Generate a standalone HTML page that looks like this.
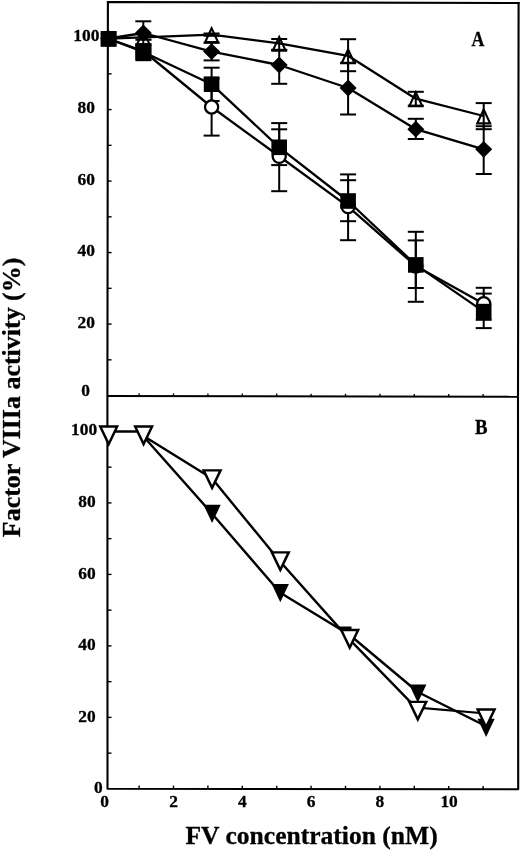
<!DOCTYPE html>
<html lang="en">
<head>
<meta charset="utf-8">
<title>Factor VIIIa activity vs FV concentration</title>
<style>
html, body { margin: 0; padding: 0; background: #ffffff; }
body { width: 520px; height: 850px; overflow: hidden; font-family: "Liberation Serif", serif; }
svg { display: block; will-change: transform; filter: grayscale(1) blur(0.4px); }
svg text { font-family: "Liberation Serif", serif; font-weight: bold; fill: #000000; stroke: #000000; stroke-width: 0.3px; }
</style>
</head>
<body>
<svg width="520" height="850" viewBox="0 0 520 850">
<rect x="0" y="0" width="520" height="850" fill="#ffffff"/>
<polyline points="107.40,395.95 107.90,2.00 518.60,2.95 518.00,396.80" fill="none" stroke="#000000" stroke-width="2.1" stroke-linejoin="round"/>
<polyline points="107.40,395.95 107.50,788.80 518.20,789.30 518.00,396.80" fill="none" stroke="#000000" stroke-width="2.1" stroke-linejoin="round"/>
<rect x="106.85" y="0.95" width="2.1" height="2.1" fill="#000000"/>
<rect x="517.55" y="1.9" width="2.1" height="2.1" fill="#000000"/>
<line x1="107.40" y1="395.95" x2="518.00" y2="396.80" stroke="#000000" stroke-width="2.1" stroke-linecap="butt"/>
<line x1="107.60" y1="359.83" x2="111.60" y2="359.83" stroke="#000000" stroke-width="1.4" stroke-linecap="butt"/>
<line x1="107.60" y1="324.08" x2="111.60" y2="324.08" stroke="#000000" stroke-width="1.4" stroke-linecap="butt"/>
<line x1="107.60" y1="288.33" x2="111.60" y2="288.33" stroke="#000000" stroke-width="1.4" stroke-linecap="butt"/>
<line x1="107.60" y1="252.58" x2="111.60" y2="252.58" stroke="#000000" stroke-width="1.4" stroke-linecap="butt"/>
<line x1="107.60" y1="216.83" x2="111.60" y2="216.83" stroke="#000000" stroke-width="1.4" stroke-linecap="butt"/>
<line x1="107.60" y1="181.08" x2="111.60" y2="181.08" stroke="#000000" stroke-width="1.4" stroke-linecap="butt"/>
<line x1="107.60" y1="145.33" x2="111.60" y2="145.33" stroke="#000000" stroke-width="1.4" stroke-linecap="butt"/>
<line x1="107.60" y1="109.58" x2="111.60" y2="109.58" stroke="#000000" stroke-width="1.4" stroke-linecap="butt"/>
<line x1="107.60" y1="73.83" x2="111.60" y2="73.83" stroke="#000000" stroke-width="1.4" stroke-linecap="butt"/>
<line x1="107.50" y1="753.15" x2="111.50" y2="753.15" stroke="#000000" stroke-width="1.4" stroke-linecap="butt"/>
<line x1="107.50" y1="717.40" x2="111.50" y2="717.40" stroke="#000000" stroke-width="1.4" stroke-linecap="butt"/>
<line x1="107.50" y1="681.65" x2="111.50" y2="681.65" stroke="#000000" stroke-width="1.4" stroke-linecap="butt"/>
<line x1="107.50" y1="645.90" x2="111.50" y2="645.90" stroke="#000000" stroke-width="1.4" stroke-linecap="butt"/>
<line x1="107.50" y1="610.15" x2="111.50" y2="610.15" stroke="#000000" stroke-width="1.4" stroke-linecap="butt"/>
<line x1="107.50" y1="574.40" x2="111.50" y2="574.40" stroke="#000000" stroke-width="1.4" stroke-linecap="butt"/>
<line x1="107.50" y1="538.65" x2="111.50" y2="538.65" stroke="#000000" stroke-width="1.4" stroke-linecap="butt"/>
<line x1="107.50" y1="502.90" x2="111.50" y2="502.90" stroke="#000000" stroke-width="1.4" stroke-linecap="butt"/>
<line x1="107.50" y1="467.15" x2="111.50" y2="467.15" stroke="#000000" stroke-width="1.4" stroke-linecap="butt"/>
<line x1="107.50" y1="431.40" x2="111.50" y2="431.40" stroke="#000000" stroke-width="1.4" stroke-linecap="butt"/>
<line x1="139.10" y1="788.84" x2="139.10" y2="785.54" stroke="#000000" stroke-width="1.4" stroke-linecap="butt"/>
<line x1="139.10" y1="396.02" x2="139.10" y2="393.32" stroke="#000000" stroke-width="1.3" stroke-linecap="butt"/>
<line x1="173.50" y1="788.88" x2="173.50" y2="785.58" stroke="#000000" stroke-width="1.4" stroke-linecap="butt"/>
<line x1="173.50" y1="396.09" x2="173.50" y2="393.39" stroke="#000000" stroke-width="1.3" stroke-linecap="butt"/>
<line x1="207.90" y1="788.92" x2="207.90" y2="785.62" stroke="#000000" stroke-width="1.4" stroke-linecap="butt"/>
<line x1="207.90" y1="396.16" x2="207.90" y2="393.46" stroke="#000000" stroke-width="1.3" stroke-linecap="butt"/>
<line x1="242.30" y1="788.96" x2="242.30" y2="785.66" stroke="#000000" stroke-width="1.4" stroke-linecap="butt"/>
<line x1="242.30" y1="396.23" x2="242.30" y2="393.53" stroke="#000000" stroke-width="1.3" stroke-linecap="butt"/>
<line x1="276.70" y1="789.01" x2="276.70" y2="785.71" stroke="#000000" stroke-width="1.4" stroke-linecap="butt"/>
<line x1="276.70" y1="396.30" x2="276.70" y2="393.60" stroke="#000000" stroke-width="1.3" stroke-linecap="butt"/>
<line x1="311.10" y1="789.05" x2="311.10" y2="785.75" stroke="#000000" stroke-width="1.4" stroke-linecap="butt"/>
<line x1="311.10" y1="396.37" x2="311.10" y2="393.67" stroke="#000000" stroke-width="1.3" stroke-linecap="butt"/>
<line x1="345.50" y1="789.09" x2="345.50" y2="785.79" stroke="#000000" stroke-width="1.4" stroke-linecap="butt"/>
<line x1="345.50" y1="396.44" x2="345.50" y2="393.74" stroke="#000000" stroke-width="1.3" stroke-linecap="butt"/>
<line x1="379.90" y1="789.13" x2="379.90" y2="785.83" stroke="#000000" stroke-width="1.4" stroke-linecap="butt"/>
<line x1="379.90" y1="396.51" x2="379.90" y2="393.81" stroke="#000000" stroke-width="1.3" stroke-linecap="butt"/>
<line x1="414.30" y1="789.17" x2="414.30" y2="785.87" stroke="#000000" stroke-width="1.4" stroke-linecap="butt"/>
<line x1="414.30" y1="396.59" x2="414.30" y2="393.89" stroke="#000000" stroke-width="1.3" stroke-linecap="butt"/>
<line x1="448.70" y1="789.22" x2="448.70" y2="785.92" stroke="#000000" stroke-width="1.4" stroke-linecap="butt"/>
<line x1="448.70" y1="396.66" x2="448.70" y2="393.96" stroke="#000000" stroke-width="1.3" stroke-linecap="butt"/>
<line x1="483.10" y1="789.26" x2="483.10" y2="785.96" stroke="#000000" stroke-width="1.4" stroke-linecap="butt"/>
<line x1="483.10" y1="396.73" x2="483.10" y2="394.03" stroke="#000000" stroke-width="1.3" stroke-linecap="butt"/>
<text x="86.30" y="41.10" font-size="17.4" text-anchor="middle" >100</text>
<text x="86.30" y="113.08" font-size="17.4" text-anchor="middle" >80</text>
<text x="86.30" y="184.58" font-size="17.4" text-anchor="middle" >60</text>
<text x="86.30" y="256.08" font-size="17.4" text-anchor="middle" >40</text>
<text x="86.30" y="327.58" font-size="17.4" text-anchor="middle" >20</text>
<text x="85.60" y="396.10" font-size="17.4" text-anchor="middle" >0</text>
<text x="84.10" y="435.30" font-size="17.4" text-anchor="middle" >100</text>
<text x="87.00" y="507.40" font-size="17.4" text-anchor="middle" >80</text>
<text x="87.00" y="578.90" font-size="17.4" text-anchor="middle" >60</text>
<text x="87.00" y="650.40" font-size="17.4" text-anchor="middle" >40</text>
<text x="87.00" y="721.90" font-size="17.4" text-anchor="middle" >20</text>
<text x="98.40" y="793.00" font-size="17.4" text-anchor="middle" >0</text>
<text x="104.70" y="806.80" font-size="17.4" text-anchor="middle" >0</text>
<text x="173.50" y="806.80" font-size="17.4" text-anchor="middle" >2</text>
<text x="242.30" y="806.80" font-size="17.4" text-anchor="middle" >4</text>
<text x="311.10" y="806.80" font-size="17.4" text-anchor="middle" >6</text>
<text x="379.90" y="806.80" font-size="17.4" text-anchor="middle" >8</text>
<text x="449.10" y="806.80" font-size="17.4" text-anchor="middle" >10</text>
<text x="311.60" y="844.40" font-size="24.6" text-anchor="middle" textLength="252.2" lengthAdjust="spacingAndGlyphs">FV concentration (nM)</text>
<text transform="translate(20.3 397.4) rotate(-90)" x="0" y="0" font-size="24.6" text-anchor="middle" textLength="279.5" lengthAdjust="spacingAndGlyphs">Factor VIIIa activity (%)</text>
<text transform="translate(478.0 46.2) scale(0.86 1)" x="0" y="0" font-size="20.7" text-anchor="middle">A</text>
<text transform="translate(481.3 433.7) scale(0.92 1)" x="0" y="0" font-size="20.4" text-anchor="middle">B</text>
<line x1="211.60" y1="78.50" x2="211.60" y2="135.60" stroke="#000000" stroke-width="2.0" stroke-linecap="butt"/>
<line x1="203.60" y1="78.50" x2="219.60" y2="78.50" stroke="#000000" stroke-width="2.0" stroke-linecap="butt"/>
<line x1="203.60" y1="135.60" x2="219.60" y2="135.60" stroke="#000000" stroke-width="2.0" stroke-linecap="butt"/>
<line x1="279.20" y1="123.10" x2="279.20" y2="191.20" stroke="#000000" stroke-width="2.0" stroke-linecap="butt"/>
<line x1="271.20" y1="123.10" x2="287.20" y2="123.10" stroke="#000000" stroke-width="2.0" stroke-linecap="butt"/>
<line x1="271.20" y1="191.20" x2="287.20" y2="191.20" stroke="#000000" stroke-width="2.0" stroke-linecap="butt"/>
<line x1="348.10" y1="174.40" x2="348.10" y2="240.20" stroke="#000000" stroke-width="2.0" stroke-linecap="butt"/>
<line x1="340.10" y1="174.40" x2="356.10" y2="174.40" stroke="#000000" stroke-width="2.0" stroke-linecap="butt"/>
<line x1="340.10" y1="240.20" x2="356.10" y2="240.20" stroke="#000000" stroke-width="2.0" stroke-linecap="butt"/>
<line x1="415.80" y1="231.80" x2="415.80" y2="301.80" stroke="#000000" stroke-width="2.0" stroke-linecap="butt"/>
<line x1="407.80" y1="231.80" x2="423.80" y2="231.80" stroke="#000000" stroke-width="2.0" stroke-linecap="butt"/>
<line x1="407.80" y1="301.80" x2="423.80" y2="301.80" stroke="#000000" stroke-width="2.0" stroke-linecap="butt"/>
<line x1="483.70" y1="287.80" x2="483.70" y2="319.80" stroke="#000000" stroke-width="2.0" stroke-linecap="butt"/>
<line x1="475.70" y1="287.80" x2="491.70" y2="287.80" stroke="#000000" stroke-width="2.0" stroke-linecap="butt"/>
<line x1="475.70" y1="319.80" x2="491.70" y2="319.80" stroke="#000000" stroke-width="2.0" stroke-linecap="butt"/>
<line x1="211.60" y1="67.70" x2="211.60" y2="101.00" stroke="#000000" stroke-width="2.0" stroke-linecap="butt"/>
<line x1="203.60" y1="67.70" x2="219.60" y2="67.70" stroke="#000000" stroke-width="2.0" stroke-linecap="butt"/>
<line x1="211.60" y1="101.00" x2="219.60" y2="101.00" stroke="#000000" stroke-width="2.0" stroke-linecap="butt"/>
<line x1="279.20" y1="129.30" x2="279.20" y2="165.10" stroke="#000000" stroke-width="2.0" stroke-linecap="butt"/>
<line x1="271.20" y1="129.30" x2="287.20" y2="129.30" stroke="#000000" stroke-width="2.0" stroke-linecap="butt"/>
<line x1="271.20" y1="165.10" x2="287.20" y2="165.10" stroke="#000000" stroke-width="2.0" stroke-linecap="butt"/>
<line x1="348.10" y1="180.20" x2="348.10" y2="221.20" stroke="#000000" stroke-width="2.0" stroke-linecap="butt"/>
<line x1="340.10" y1="180.20" x2="356.10" y2="180.20" stroke="#000000" stroke-width="2.0" stroke-linecap="butt"/>
<line x1="340.10" y1="221.20" x2="356.10" y2="221.20" stroke="#000000" stroke-width="2.0" stroke-linecap="butt"/>
<line x1="415.80" y1="240.40" x2="415.80" y2="288.00" stroke="#000000" stroke-width="2.0" stroke-linecap="butt"/>
<line x1="407.80" y1="240.40" x2="423.80" y2="240.40" stroke="#000000" stroke-width="2.0" stroke-linecap="butt"/>
<line x1="407.80" y1="288.00" x2="423.80" y2="288.00" stroke="#000000" stroke-width="2.0" stroke-linecap="butt"/>
<line x1="483.70" y1="293.60" x2="483.70" y2="328.10" stroke="#000000" stroke-width="2.0" stroke-linecap="butt"/>
<line x1="475.70" y1="293.60" x2="491.70" y2="293.60" stroke="#000000" stroke-width="2.0" stroke-linecap="butt"/>
<line x1="475.70" y1="328.10" x2="491.70" y2="328.10" stroke="#000000" stroke-width="2.0" stroke-linecap="butt"/>
<line x1="143.30" y1="21.30" x2="143.30" y2="44.70" stroke="#000000" stroke-width="2.0" stroke-linecap="butt"/>
<line x1="135.30" y1="21.30" x2="151.30" y2="21.30" stroke="#000000" stroke-width="2.0" stroke-linecap="butt"/>
<line x1="135.30" y1="44.70" x2="151.30" y2="44.70" stroke="#000000" stroke-width="2.0" stroke-linecap="butt"/>
<line x1="211.60" y1="42.80" x2="211.60" y2="60.40" stroke="#000000" stroke-width="2.0" stroke-linecap="butt"/>
<line x1="203.60" y1="42.80" x2="219.60" y2="42.80" stroke="#000000" stroke-width="2.0" stroke-linecap="butt"/>
<line x1="203.60" y1="60.40" x2="219.60" y2="60.40" stroke="#000000" stroke-width="2.0" stroke-linecap="butt"/>
<line x1="279.20" y1="49.90" x2="279.20" y2="83.80" stroke="#000000" stroke-width="2.0" stroke-linecap="butt"/>
<line x1="271.20" y1="49.90" x2="287.20" y2="49.90" stroke="#000000" stroke-width="2.0" stroke-linecap="butt"/>
<line x1="271.20" y1="83.80" x2="287.20" y2="83.80" stroke="#000000" stroke-width="2.0" stroke-linecap="butt"/>
<line x1="348.10" y1="62.80" x2="348.10" y2="114.50" stroke="#000000" stroke-width="2.0" stroke-linecap="butt"/>
<line x1="340.10" y1="62.80" x2="356.10" y2="62.80" stroke="#000000" stroke-width="2.0" stroke-linecap="butt"/>
<line x1="340.10" y1="114.50" x2="356.10" y2="114.50" stroke="#000000" stroke-width="2.0" stroke-linecap="butt"/>
<line x1="415.80" y1="118.80" x2="415.80" y2="139.00" stroke="#000000" stroke-width="2.0" stroke-linecap="butt"/>
<line x1="407.80" y1="118.80" x2="423.80" y2="118.80" stroke="#000000" stroke-width="2.0" stroke-linecap="butt"/>
<line x1="407.80" y1="139.00" x2="423.80" y2="139.00" stroke="#000000" stroke-width="2.0" stroke-linecap="butt"/>
<line x1="483.70" y1="126.20" x2="483.70" y2="174.00" stroke="#000000" stroke-width="2.0" stroke-linecap="butt"/>
<line x1="475.70" y1="126.20" x2="491.70" y2="126.20" stroke="#000000" stroke-width="2.0" stroke-linecap="butt"/>
<line x1="475.70" y1="174.00" x2="491.70" y2="174.00" stroke="#000000" stroke-width="2.0" stroke-linecap="butt"/>
<line x1="211.60" y1="33.50" x2="211.60" y2="35.80" stroke="#000000" stroke-width="2.0" stroke-linecap="butt"/>
<line x1="203.60" y1="33.50" x2="219.60" y2="33.50" stroke="#000000" stroke-width="2.0" stroke-linecap="butt"/>
<line x1="203.60" y1="35.80" x2="219.60" y2="35.80" stroke="#000000" stroke-width="2.0" stroke-linecap="butt"/>
<line x1="279.20" y1="39.00" x2="279.20" y2="49.90" stroke="#000000" stroke-width="2.0" stroke-linecap="butt"/>
<line x1="271.20" y1="39.00" x2="287.20" y2="39.00" stroke="#000000" stroke-width="2.0" stroke-linecap="butt"/>
<line x1="271.20" y1="49.90" x2="287.20" y2="49.90" stroke="#000000" stroke-width="2.0" stroke-linecap="butt"/>
<line x1="348.10" y1="39.20" x2="348.10" y2="71.20" stroke="#000000" stroke-width="2.0" stroke-linecap="butt"/>
<line x1="340.10" y1="39.20" x2="356.10" y2="39.20" stroke="#000000" stroke-width="2.0" stroke-linecap="butt"/>
<line x1="340.10" y1="71.20" x2="356.10" y2="71.20" stroke="#000000" stroke-width="2.0" stroke-linecap="butt"/>
<line x1="415.80" y1="91.80" x2="415.80" y2="105.60" stroke="#000000" stroke-width="2.0" stroke-linecap="butt"/>
<line x1="407.80" y1="91.80" x2="423.80" y2="91.80" stroke="#000000" stroke-width="2.0" stroke-linecap="butt"/>
<line x1="407.80" y1="105.60" x2="423.80" y2="105.60" stroke="#000000" stroke-width="2.0" stroke-linecap="butt"/>
<line x1="483.70" y1="103.10" x2="483.70" y2="129.20" stroke="#000000" stroke-width="2.0" stroke-linecap="butt"/>
<line x1="475.70" y1="103.10" x2="491.70" y2="103.10" stroke="#000000" stroke-width="2.0" stroke-linecap="butt"/>
<line x1="475.70" y1="129.20" x2="491.70" y2="129.20" stroke="#000000" stroke-width="2.0" stroke-linecap="butt"/>
<polyline points="108.60,38.80 143.30,51.00 211.60,107.00 279.20,156.30 348.10,206.60 415.80,266.00 483.70,303.80" fill="none" stroke="#000000" stroke-width="2.3" stroke-linejoin="round"/>
<polyline points="108.60,38.80 143.30,52.00 211.60,84.20 279.20,147.30 348.10,201.00 415.80,264.90 483.70,311.60" fill="none" stroke="#000000" stroke-width="2.3" stroke-linejoin="round"/>
<polyline points="108.60,38.50 143.30,33.00 211.60,51.60 279.20,65.00 348.10,88.00 415.80,129.20 483.70,149.30" fill="none" stroke="#000000" stroke-width="2.3" stroke-linejoin="round"/>
<polyline points="108.60,38.50 143.30,37.30 211.60,34.70 279.20,43.30 348.10,55.80 415.80,98.70 483.70,116.00" fill="none" stroke="#000000" stroke-width="2.3" stroke-linejoin="round"/>
<circle cx="108.60" cy="38.80" r="6.60" fill="#fff" stroke="#000000" stroke-width="2.3"/>
<circle cx="143.30" cy="51.00" r="6.60" fill="#fff" stroke="#000000" stroke-width="2.3"/>
<circle cx="211.60" cy="107.00" r="6.60" fill="#fff" stroke="#000000" stroke-width="2.3"/>
<circle cx="279.20" cy="156.30" r="6.60" fill="#fff" stroke="#000000" stroke-width="2.3"/>
<circle cx="348.10" cy="206.60" r="6.60" fill="#fff" stroke="#000000" stroke-width="2.3"/>
<circle cx="415.80" cy="266.00" r="6.60" fill="#fff" stroke="#000000" stroke-width="2.3"/>
<circle cx="483.70" cy="303.80" r="6.60" fill="#fff" stroke="#000000" stroke-width="2.3"/>
<rect x="100.80" y="31.00" width="15.6" height="15.6" fill="#000000"/>
<rect x="135.50" y="44.20" width="15.6" height="15.6" fill="#000000"/>
<rect x="203.80" y="76.40" width="15.6" height="15.6" fill="#000000"/>
<rect x="271.40" y="139.50" width="15.6" height="15.6" fill="#000000"/>
<rect x="340.30" y="193.20" width="15.6" height="15.6" fill="#000000"/>
<rect x="408.00" y="257.10" width="15.6" height="15.6" fill="#000000"/>
<rect x="475.90" y="303.80" width="15.6" height="15.6" fill="#000000"/>
<polygon points="108.60,30.10 117.10,38.50 108.60,46.90 100.10,38.50" fill="#000000"/>
<polygon points="143.30,24.60 151.80,33.00 143.30,41.40 134.80,33.00" fill="#000000"/>
<polygon points="211.60,43.20 220.10,51.60 211.60,60.00 203.10,51.60" fill="#000000"/>
<polygon points="279.20,56.60 287.70,65.00 279.20,73.40 270.70,65.00" fill="#000000"/>
<polygon points="348.10,79.60 356.60,88.00 348.10,96.40 339.60,88.00" fill="#000000"/>
<polygon points="415.80,120.80 424.30,129.20 415.80,137.60 407.30,129.20" fill="#000000"/>
<polygon points="483.70,140.90 492.20,149.30 483.70,157.70 475.20,149.30" fill="#000000"/>
<path d="M143.30,28.40 L151.40,45.75 L135.20,45.75 Z M143.30,33.36 L148.10,43.65 L138.50,43.65 Z" fill="#000000" fill-rule="evenodd"/>
<path d="M211.60,25.80 L219.70,43.15 L203.50,43.15 Z M211.60,30.76 L216.40,41.05 L206.80,41.05 Z" fill="#000000" fill-rule="evenodd"/>
<path d="M279.20,34.40 L287.30,51.75 L271.10,51.75 Z M279.20,39.36 L284.00,49.65 L274.40,49.65 Z" fill="#000000" fill-rule="evenodd"/>
<path d="M348.10,46.90 L356.20,64.25 L340.00,64.25 Z M348.10,51.86 L352.90,62.15 L343.30,62.15 Z" fill="#000000" fill-rule="evenodd"/>
<path d="M415.80,89.80 L423.90,107.15 L407.70,107.15 Z M415.80,94.76 L420.60,105.05 L411.00,105.05 Z" fill="#000000" fill-rule="evenodd"/>
<path d="M483.70,107.10 L491.80,124.45 L475.60,124.45 Z M483.70,112.06 L488.50,122.35 L478.90,122.35 Z" fill="#000000" fill-rule="evenodd"/>
<rect x="100.70" y="31.20" width="15.8" height="15.4" fill="#000000"/>
<rect x="135.4" y="43.1" width="16.1" height="18.1" fill="#000000"/>
<line x1="135.40" y1="39.70" x2="151.50" y2="39.70" stroke="#000000" stroke-width="2.2" stroke-linecap="butt"/>
<polyline points="143.60,436.50 212.10,513.70 280.30,592.80 349.70,635.00 417.80,692.00 486.10,726.20" fill="none" stroke="#000000" stroke-width="2.4" stroke-linejoin="round"/>
<polygon points="203.50,504.85 220.70,504.85 212.10,523.10" fill="#000000"/>
<polygon points="271.70,583.95 288.90,583.95 280.30,602.20" fill="#000000"/>
<polygon points="338.50,626.40 351.50,626.40 351.50,631.00 341.00,631.00" fill="#000000"/>
<polygon points="409.20,684.45 426.40,684.45 417.80,702.70" fill="#000000"/>
<polygon points="477.50,718.75 494.70,718.75 486.10,737.00" fill="#000000"/>
<line x1="108.70" y1="431.50" x2="143.60" y2="431.50" stroke="#000000" stroke-width="2.3" stroke-linecap="butt"/>
<polyline points="143.60,435.90 212.10,478.60 280.30,561.80 349.70,639.60 417.80,709.60" fill="none" stroke="#000000" stroke-width="2.4" stroke-linejoin="round"/>
<line x1="417.80" y1="707.70" x2="486.10" y2="713.50" stroke="#000000" stroke-width="2.2" stroke-linecap="butt"/>
<polygon points="108.70,446.90 119.10,425.35 98.30,425.35" fill="#000000"/>
<polygon points="108.70,441.26 115.20,427.80 102.20,427.80" fill="#fff"/>
<polygon points="143.60,446.90 154.00,425.35 133.20,425.35" fill="#000000"/>
<polygon points="143.60,441.26 150.10,427.80 137.10,427.80" fill="#fff"/>
<polygon points="212.10,490.70 222.50,469.15 201.70,469.15" fill="#000000"/>
<polygon points="212.10,485.06 218.60,471.60 205.60,471.60" fill="#fff"/>
<polygon points="280.30,572.70 290.70,551.15 269.90,551.15" fill="#000000"/>
<polygon points="280.30,567.06 286.80,553.60 273.80,553.60" fill="#fff"/>
<polygon points="349.70,650.40 360.10,628.85 339.30,628.85" fill="#000000"/>
<polygon points="349.70,644.76 356.20,631.30 343.20,631.30" fill="#fff"/>
<polygon points="417.80,722.20 428.20,700.65 407.40,700.65" fill="#000000"/>
<polygon points="417.80,716.56 424.30,703.10 411.30,703.10" fill="#fff"/>
<polygon points="486.10,729.90 496.50,708.35 475.70,708.35" fill="#000000"/>
<polygon points="486.10,724.26 492.60,710.80 479.60,710.80" fill="#fff"/>
</svg>
</body>
</html>
